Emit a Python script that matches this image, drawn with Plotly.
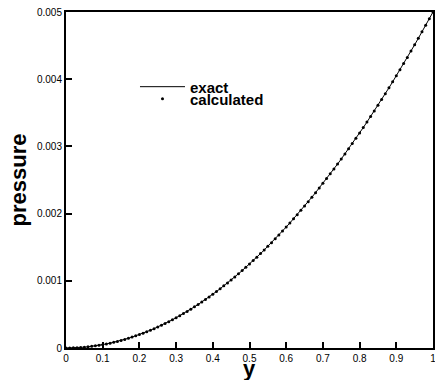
import plotly.graph_objects as go

y_values = [i / 100 for i in range(101)]
# pressure (same points for exact curve and calculated dots)
pressure = [0, 0.5e-6, 2e-6, 4.5e-6, 8e-6, 12.5e-6, 18e-6, 24.5e-6, 32e-6, 40.5e-6,
            50e-6, 60.5e-6, 72e-6, 84.5e-6, 98e-6, 112.5e-6, 128e-6, 144.5e-6, 162e-6, 180.5e-6,
            200e-6, 220.5e-6, 242e-6, 264.5e-6, 288e-6, 312.5e-6, 338e-6, 364.5e-6, 392e-6, 420.5e-6,
            450e-6, 480.5e-6, 512e-6, 544.5e-6, 578e-6, 612.5e-6, 648e-6, 684.5e-6, 722e-6, 760.5e-6,
            800e-6, 840.5e-6, 882e-6, 924.5e-6, 968e-6, 1012.5e-6, 1058e-6, 1104.5e-6, 1152e-6, 1200.5e-6,
            1250e-6, 1300.5e-6, 1352e-6, 1404.5e-6, 1458e-6, 1512.5e-6, 1568e-6, 1624.5e-6, 1682e-6, 1740.5e-6,
            1800e-6, 1860.5e-6, 1922e-6, 1984.5e-6, 2048e-6, 2112.5e-6, 2178e-6, 2244.5e-6, 2312e-6, 2380.5e-6,
            2450e-6, 2520.5e-6, 2592e-6, 2664.5e-6, 2738e-6, 2812.5e-6, 2888e-6, 2964.5e-6, 3042e-6, 3120.5e-6,
            3200e-6, 3280.5e-6, 3362e-6, 3444.5e-6, 3528e-6, 3612.5e-6, 3698e-6, 3784.5e-6, 3872e-6, 3960.5e-6,
            4050e-6, 4140.5e-6, 4232e-6, 4324.5e-6, 4418e-6, 4512.5e-6, 4608e-6, 4704.5e-6, 4802e-6, 4900.5e-6,
            5000e-6]

x_ticks = [0, 0.1, 0.2, 0.3, 0.4, 0.5, 0.6, 0.7, 0.8, 0.9, 1]
x_tick_labels = ["0", "0.1", "0.2", "0.3", "0.4", "0.5", "0.6", "0.7", "0.8", "0.9", "1"]
y_ticks = [0, 0.001, 0.002, 0.003, 0.004, 0.005]
y_tick_labels = ["0", "0.001", "0.002", "0.003", "0.004", "0.005"]

FONT = "Liberation Sans, Arial, sans-serif"

fig = go.Figure()
fig.add_trace(go.Scatter(x=y_values, y=pressure, mode="lines", name="<b>exact</b>",
                         line=dict(color="black", width=1), legend="legend"))
fig.add_trace(go.Scatter(x=y_values, y=pressure, mode="markers", name="<b>calculated</b>",
                         marker=dict(color="black", size=3), legend="legend2"))

leg_common = dict(x=0.188, xanchor="left", yanchor="middle",
                  bgcolor="rgba(0,0,0,0)", font=dict(size=15, family=FONT),
                  itemwidth=45)

fig.update_layout(
    width=435, height=380,
    margin=dict(l=66, r=2, t=12, b=32, autoexpand=False),
    paper_bgcolor="white", plot_bgcolor="white",
    font=dict(family=FONT, color="black"),
    showlegend=True,
    legend=dict(y=0.777, **leg_common),
    legend2=dict(y=0.741, **leg_common),
    annotations=[dict(text="<b>y</b>", xref="paper", yref="paper", x=0.5, y=0,
                      xanchor="center", yanchor="top", yshift=-6, showarrow=False,
                      font=dict(size=22, family=FONT))],
)
fig.update_xaxes(
    range=[0, 1], tickvals=x_ticks, ticktext=x_tick_labels,
    ticks="inside", ticklen=6, tickwidth=2, tickcolor="black",
    showline=True, linecolor="black", linewidth=2, mirror=True,
    showgrid=False, zeroline=False, automargin=False, ticklabeloverflow="allow",
    tickfont=dict(size=10, family=FONT),
)
fig.update_yaxes(
    range=[0, 0.005], tickvals=y_ticks, ticktext=y_tick_labels,
    ticks="inside", ticklen=6, tickwidth=2, tickcolor="black",
    showline=True, linecolor="black", linewidth=2, mirror=True,
    showgrid=False, zeroline=False, automargin=False, ticklabeloverflow="allow",
    tickfont=dict(size=10, family=FONT),
    title=dict(text="<b>pressure</b>", font=dict(size=22, family=FONT), standoff=4),
)

fig.write_html(
    "out.html",
    config={"displayModeBar": False},
    post_script="document.body.style.margin='0';document.body.style.overflow='hidden';",
)
